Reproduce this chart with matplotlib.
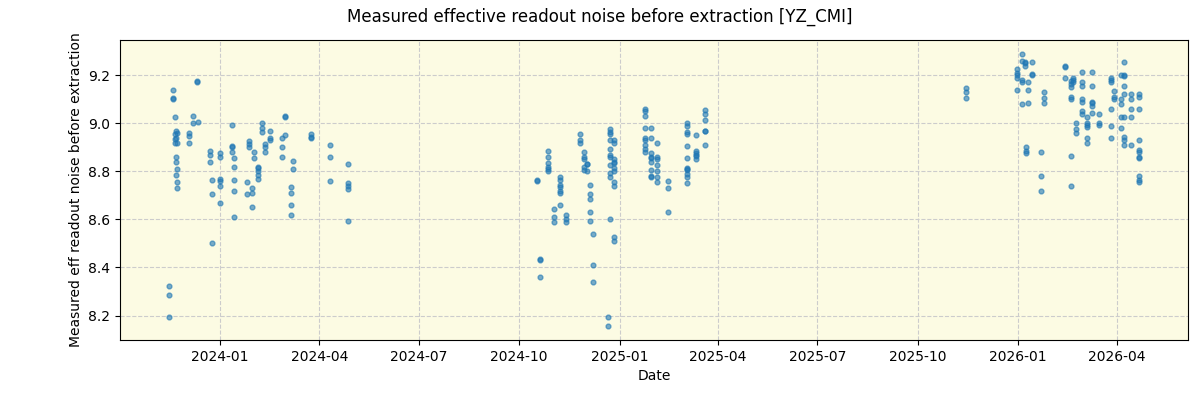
import numpy as np
import pandas as pd
import matplotlib
matplotlib.use("Agg")
import matplotlib.pyplot as plt
import matplotlib.dates as mdates

obs_dates = [
    "2023-11-15", "2023-11-19", "2023-11-21", "2023-11-22", "2023-11-23",
    "2023-12-04", "2023-12-07", "2023-12-11", "2023-12-12", "2023-12-23",
    "2023-12-25", "2024-01-01", "2024-01-12", "2024-01-14", "2024-01-26",
    "2024-01-28", "2024-01-30", "2024-02-01", "2024-02-05", "2024-02-09",
    "2024-02-11", "2024-02-16", "2024-02-27", "2024-03-01", "2024-03-06",
    "2024-03-08", "2024-03-24", "2024-04-11", "2024-04-27",
    "2024-10-17", "2024-10-20", "2024-10-27", "2024-11-02", "2024-11-07",
    "2024-11-13", "2024-11-26", "2024-11-29", "2024-12-02", "2024-12-05",
    "2024-12-08", "2024-12-21", "2024-12-23", "2024-12-27", "2025-01-24",
    "2025-01-30", "2025-02-04", "2025-02-14", "2025-03-04", "2025-03-12",
    "2025-03-20",
    "2025-11-14", "2025-12-31", "2026-01-04", "2026-01-07", "2026-01-08",
    "2026-01-10", "2026-01-14", "2026-01-22", "2026-01-25", "2026-02-13",
    "2026-02-18", "2026-02-20", "2026-02-23", "2026-02-28", "2026-03-05",
    "2026-03-10", "2026-03-16", "2026-03-27", "2026-03-30", "2026-04-05",
    "2026-04-08", "2026-04-14", "2026-04-22",
]
obs_values = [
    [8.325, 8.285, 8.195],
    [9.14, 9.105, 9.10],
    [9.025, 8.955, 8.935, 8.92],
    [8.97, 8.94, 8.86, 8.84, 8.785],
    [8.96, 8.92, 8.81, 8.755, 8.73],
    [8.958, 8.947, 8.92],
    [9.03, 9.0],
    [9.175, 9.17],
    [9.005],
    [8.885, 8.87, 8.84],
    [8.765, 8.705, 8.50],
    [8.875, 8.86, 8.77, 8.76, 8.74, 8.67],
    [8.995, 8.905, 8.90, 8.88],
    [8.855, 8.82, 8.765, 8.72, 8.61],
    [8.755, 8.705],
    [8.925, 8.915, 8.90],
    [8.73, 8.71, 8.65],
    [8.88, 8.855],
    [8.82, 8.815, 8.80, 8.785, 8.77],
    [9.0, 8.98, 8.963],
    [8.915, 8.90, 8.88],
    [8.967, 8.94, 8.93],
    [8.94, 8.90, 8.86],
    [9.03, 9.028, 8.95],
    [8.735, 8.71, 8.66, 8.62],
    [8.845, 8.81],
    [8.955, 8.945, 8.94],
    [8.91, 8.86, 8.76],
    [8.83, 8.75, 8.74, 8.725, 8.595],
    [8.765, 8.758],
    [8.437, 8.43, 8.36],
    [8.885, 8.86, 8.833, 8.82, 8.808, 8.80],
    [8.645, 8.61, 8.59],
    [8.775, 8.765, 8.745, 8.735, 8.72, 8.71, 8.66],
    [8.62, 8.60, 8.59],
    [8.957, 8.93, 8.92],
    [8.88, 8.86, 8.85, 8.82, 8.805],
    [8.83, 8.83, 8.80],
    [8.745, 8.705, 8.685, 8.63, 8.595],
    [8.54, 8.41, 8.34],
    [8.195, 8.155],
    [8.975, 8.962, 8.955, 8.93, 8.895, 8.87, 8.86, 8.825, 8.795, 8.775, 8.60],
    [8.93, 8.917, 8.85, 8.84, 8.835, 8.815, 8.80, 8.755, 8.738, 8.525, 8.512],
    [9.06, 9.05, 9.03, 8.98, 8.94, 8.93, 8.91, 8.895, 8.88],
    [8.98, 8.94, 8.875, 8.86, 8.855, 8.84, 8.805, 8.78, 8.775],
    [8.92, 8.86, 8.85, 8.825, 8.80, 8.775, 8.755],
    [8.76, 8.73, 8.633],
    [9.0, 8.99, 8.965, 8.955, 8.905, 8.855, 8.815, 8.81, 8.805, 8.79, 8.775, 8.75],
    [8.95, 8.885, 8.875, 8.87, 8.865, 8.85],
    [9.057, 9.04, 9.015, 8.97, 8.968, 8.91],
    [9.145, 9.13, 9.105],
    [9.225, 9.21, 9.20, 9.19, 9.14],
    [9.29, 9.26, 9.18, 9.17, 9.08],
    [9.255, 9.25, 9.24],
    [8.90, 8.883, 8.875],
    [9.17, 9.14, 9.085],
    [9.255, 9.205, 9.20],
    [8.88, 8.78, 8.72],
    [9.13, 9.105, 9.085],
    [9.24, 9.235, 9.19],
    [9.175, 9.165, 9.15, 9.11, 9.10, 8.865, 8.74],
    [9.19, 9.18, 9.17],
    [9.0, 8.975, 8.96],
    [9.215, 9.17, 9.155, 9.10, 9.09, 9.05, 9.04],
    [9.025, 9.0, 8.995, 8.985, 8.94, 8.92],
    [9.215, 9.155, 9.09, 9.085, 9.07, 9.045],
    [9.04, 9.0, 8.995],
    [9.19, 9.18, 9.17, 9.06, 8.99, 8.94],
    [9.135, 9.11, 9.10],
    [9.2, 9.1, 9.08, 9.025, 8.98],
    [9.255, 9.2, 9.195, 9.155, 9.12, 9.025, 8.945, 8.93, 8.91],
    [9.12, 9.10, 9.06, 9.025, 8.91],
    [9.12, 9.11, 9.06, 8.93, 8.89, 8.88, 8.86, 8.855, 8.78, 8.765, 8.755],
]

x = []
y = []
for d, vals in zip(obs_dates, obs_values):
    for v in vals:
        x.append(pd.Timestamp(d))
        y.append(v)

fig, ax = plt.subplots(figsize=(12, 4), dpi=100)
fig.subplots_adjust(left=0.1, right=0.99, top=0.9, bottom=0.15)
ax.set_facecolor('#fcfbe3')

ax.scatter(x, y, s=12, color='tab:blue', alpha=0.6, zorder=3)

ax.xaxis.set_major_locator(mdates.MonthLocator(bymonth=[1, 4, 7, 10]))
ax.xaxis.set_major_formatter(mdates.DateFormatter('%Y-%m'))
ax.grid(True, linestyle='--', color='#cccccc', linewidth=0.8)

ax.set_xlabel('Date')
ax.set_ylabel('Measured eff readout noise before extraction')
fig.suptitle('Measured effective readout noise before extraction [YZ_CMI]', fontsize=12)

fig.savefig('out.png')
